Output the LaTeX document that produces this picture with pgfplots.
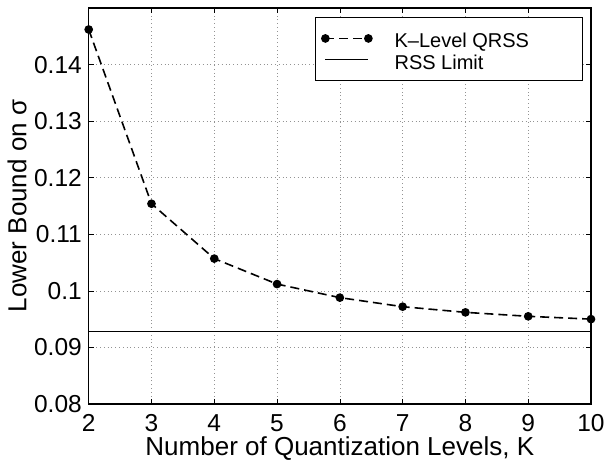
\documentclass[border=0pt]{standalone}
\usepackage{fontspec}
\setmainfont{Liberation Sans}
\usepackage{pgfplots}
\pgfplotsset{compat=1.18}

\newcommand{\ticksize}{\fontsize{24.5}{28}\selectfont}
\newcommand{\labsize}{\fontsize{26}{30}\selectfont}
\newcommand{\legsize}{\fontsize{20}{24}\selectfont}
% legend text cell: fixed width and fixed row height
\newcommand{\legtext}[1]{\makebox[181pt][l]{\rule[-6.7pt]{0pt}{26.7pt}#1}}

\begin{document}
\begin{tikzpicture}
\path[use as bounding box] (-88.7pt,-58pt) rectangle (519.3pt,404pt);
\begin{axis}[
  at={(0pt,0pt)}, anchor=south west,
  scale only axis, width=502.3pt, height=396pt,
  xmin=2, xmax=10, ymin=0.08, ymax=0.15,
  clip=false,
  xtick={2,3,4,5,6,7,8,9,10},
  xticklabels={2,3,4,5,6,7,8,9,10},
  ytick={0.08,0.09,0.10,0.11,0.12,0.13,0.14},
  yticklabels={0.08,0.09,0.1,0.11,0.12,0.13,0.14},
  tick align=inside, major tick length=5pt,
  tick style={black, line width=0.6pt},
  grid=major,
  major grid style={gray!85, line width=0.5pt, dash pattern=on 0.8pt off 3pt},
  axis line style={line width=1.2pt},
  xticklabel style={font=\ticksize, anchor=base, inner sep=0pt, yshift=-27.5pt},
  yticklabel style={font=\ticksize, anchor=east, inner sep=0pt, xshift=-6.7pt},
  xlabel={Number of Quantization Levels, K},
  ylabel={Lower Bound on σ},
  xlabel style={font=\labsize, at={(axis description cs:0.5,0)}, anchor=base, inner sep=0pt, yshift=-52pt},
  ylabel style={font=\labsize, at={(axis description cs:-0.1427,0.5)}, anchor=center, inner sep=0pt},
  legend style={at={(axis description cs:0.4505,0.9765)}, anchor=north west,
    draw=black, line width=0.8pt, fill=white, font=\legsize,
    inner xsep=6.5pt, inner ysep=10pt, column sep=22.7pt, row sep=0pt,
    nodes={inner sep=0pt}},
  legend cell align=left,
  legend image code/.code={\draw[#1] plot coordinates {(0pt,0pt) (43pt,0pt)};},
]
\addplot[black, line width=1.6pt, dash pattern=on 9pt off 5pt,
  mark=*, mark size=3.5pt, mark options={solid, fill=black}]
  coordinates {
    (2,0.1462) (3,0.1154) (4,0.1057) (5,0.1012) (6,0.0988)
    (7,0.0972) (8,0.0962) (9,0.0955) (10,0.0950)
  };
\addlegendentry{\legtext{K–Level QRSS}}
\addplot[black, line width=1pt] coordinates {(2,0.0929) (10,0.0929)};
\addlegendentry{\legtext{RSS Limit}}
\end{axis}
\end{tikzpicture}
\end{document}
